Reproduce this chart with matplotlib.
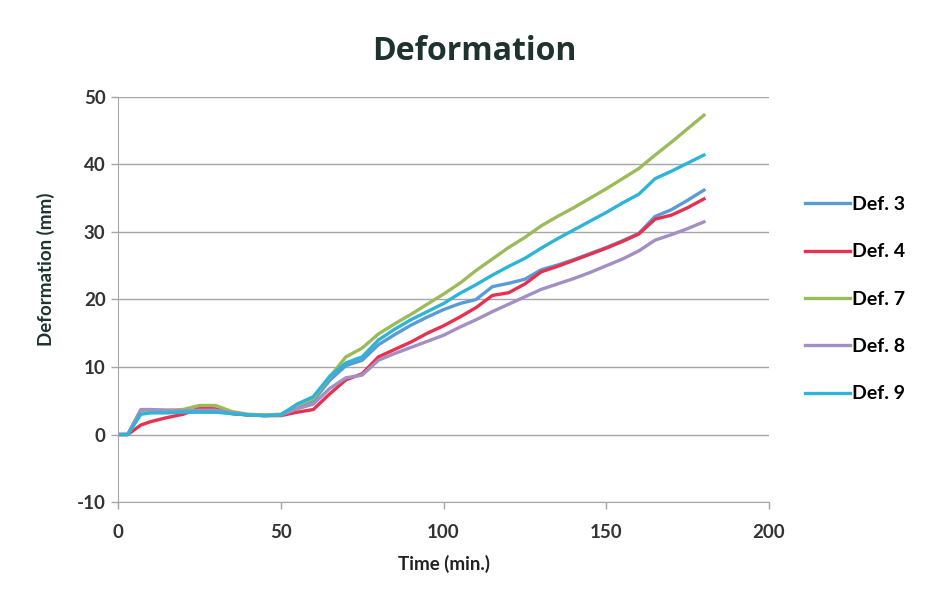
import matplotlib.pyplot as plt
import numpy as np

plt.rcParams['font.family'] = ['Lato', 'DejaVu Sans']
plt.rcParams['axes.unicode_minus'] = False

# tempo (min) e deformazioni
time = [0, 3, 7, 10, 15, 20, 25, 30, 35, 40, 45, 50, 55, 60, 65, 70, 75, 80, 85, 90,
        95, 100, 105, 110, 115, 120, 125, 130, 135, 140, 145, 150, 155, 160, 165, 170, 175, 180]

def3 = [0, 0, 3.6, 3.6, 3.5, 3.4, 3.4, 3.4, 3.1, 2.9, 2.8, 2.9, 4.2, 5.0, 8.0, 10.2, 11.0, 13.3, 14.8, 16.2,
        17.4, 18.5, 19.4, 20.0, 21.9, 22.4, 23.0, 24.4, 25.1, 25.9, 26.8, 27.7, 28.7, 29.8, 32.3, 33.3, 34.7, 36.2]
def4 = [0, 0, 1.4, 1.9, 2.5, 3.0, 3.9, 3.8, 3.1, 2.9, 2.8, 2.8, 3.3, 3.7, 6.0, 8.1, 9.0, 11.5, 12.6, 13.7,
        15.0, 16.1, 17.4, 18.8, 20.6, 21.0, 22.3, 24.1, 24.9, 25.8, 26.7, 27.6, 28.6, 29.7, 31.9, 32.5, 33.6, 34.9]
def7 = [0, 0, 3.5, 3.6, 3.6, 3.7, 4.3, 4.3, 3.4, 3.0, 2.9, 3.0, 4.3, 5.3, 8.5, 11.5, 12.8, 14.9, 16.4, 17.8,
        19.3, 20.8, 22.4, 24.3, 26.0, 27.7, 29.2, 30.9, 32.3, 33.6, 35.0, 36.4, 37.9, 39.4, 41.4, 43.3, 45.3, 47.3]
def8 = [0, 0, 3.7, 3.7, 3.6, 3.5, 3.6, 3.6, 3.2, 2.9, 2.8, 2.9, 3.8, 4.5, 6.8, 8.4, 8.8, 11.0, 12.0, 12.9,
        13.8, 14.7, 15.9, 17.0, 18.2, 19.3, 20.4, 21.5, 22.3, 23.1, 24.0, 25.0, 26.0, 27.2, 28.8, 29.6, 30.5, 31.5]
def9 = [0, 0, 3.0, 3.2, 3.2, 3.3, 3.3, 3.3, 3.1, 2.9, 2.8, 2.9, 4.5, 5.6, 8.6, 10.6, 11.5, 14.0, 15.6, 17.0,
        18.2, 19.4, 20.9, 22.2, 23.6, 24.9, 26.1, 27.6, 29.0, 30.3, 31.6, 32.9, 34.3, 35.6, 37.9, 39.0, 40.2, 41.4]

series = [("Def. 3", def3, "#5B9BD5"),
          ("Def. 4", def4, "#E8304F"),
          ("Def. 7", def7, "#9BBB59"),
          ("Def. 8", def8, "#A28FC4"),
          ("Def. 9", def9, "#2DB4D8")]

fig = plt.figure(figsize=(9.3, 6.02), dpi=100)
ax = fig.add_axes([0.1269, 0.1661, 0.7, 0.6728])

for nome, y, c in series:
    ax.plot(time, y, color=c, lw=2.4, label=nome)

ax.set_xlim(0, 200)
ax.set_ylim(-10, 50)
ax.set_xticks([0, 50, 100, 150, 200])
ax.set_yticks(np.arange(-10, 51, 10))
ax.yaxis.grid(True, color="#A6A6A6", lw=1)
ax.set_axisbelow(True)
for s in ["top", "right"]:
    ax.spines[s].set_visible(False)
for s in ["left", "bottom"]:
    ax.spines[s].set_color("#A6A6A6")
ax.tick_params(colors="#A6A6A6", length=5, width=1, labelcolor="#333333", labelsize=13.5)
ax.tick_params(axis="x", pad=11)
ax.tick_params(axis="y", pad=4)
for lab in ax.get_xticklabels() + ax.get_yticklabels():
    lab.set_fontweight("bold")

# titolo centrato sul grafico intero
fig.text(0.51, 0.900, "Deformation", fontsize=23, fontweight="bold", color="#1E3330",
         ha="center", va="baseline", family=["Open Sans", "DejaVu Sans"])
ax.set_xlabel("Time (min.)", fontsize=13.5, fontweight="bold", color="#222222")
ax.xaxis.set_label_coords(0.5, -0.131)
ax.set_ylabel("Deformation (mm)", fontsize=13.5, fontweight="bold", color="#1E3330")
ax.yaxis.set_label_coords(-0.097, 0.575)

ax.legend(loc="center left", bbox_to_anchor=(0.8656, 0.503), bbox_transform=fig.transFigure,
          frameon=False, labelspacing=1.56, handlelength=2.32, handletextpad=0.12,
          borderpad=0, borderaxespad=0, prop={"weight": "bold", "size": 14})

fig.savefig("out.png", dpi=100)
